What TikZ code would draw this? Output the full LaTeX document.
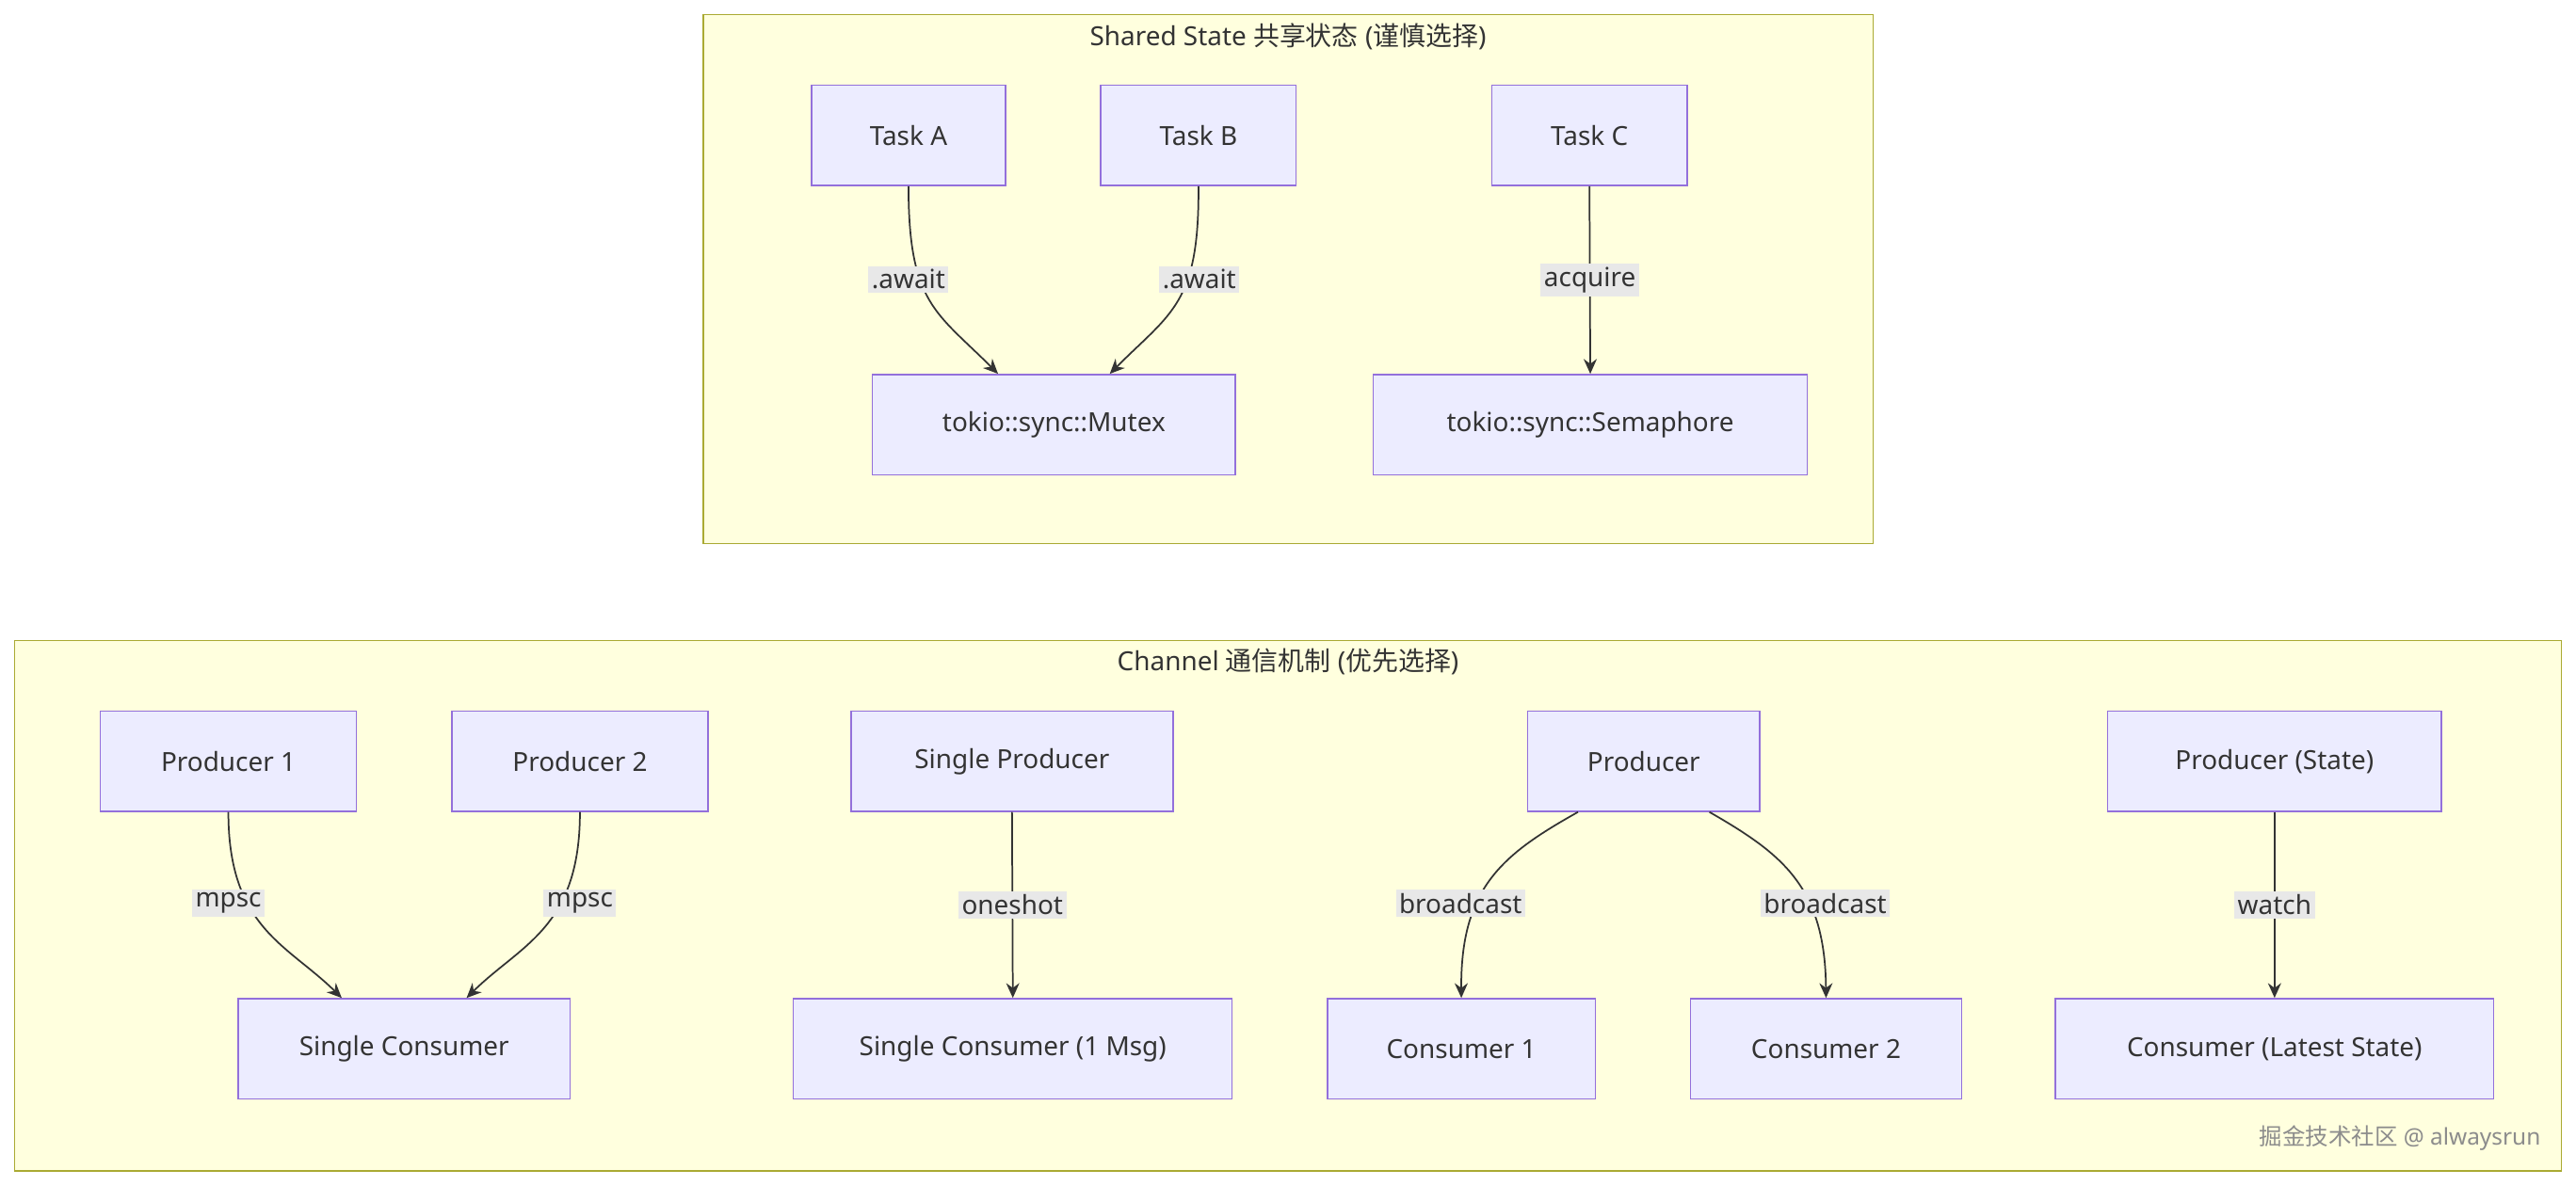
\documentclass[tikz,border=0pt]{standalone}
\usepackage{fontspec}
\setmainfont{Noto Sans}
\newfontfamily\cjk{Noto Sans CJK SC}
\usetikzlibrary{calc,arrows.meta}
\definecolor{nfill}{HTML}{ECECFF}
\definecolor{nline}{HTML}{9370DB}
\definecolor{cfill}{HTML}{FFFFDE}
\definecolor{cline}{HTML}{AAAA33}
\definecolor{lbg}{HTML}{E8E8E8}
\definecolor{ink}{HTML}{333333}
\begin{document}
\begin{tikzpicture}[x=1pt,y=-1pt,
  every node/.style={font=\fontsize{16}{19}\selectfont, text=ink},
  box/.style={draw=nline, fill=nfill, line width=0.8pt, minimum height=61pt, inner sep=0pt},
  clus/.style={draw=cline, fill=cfill, line width=0.8pt},
  lbl/.style={fill=lbg, inner sep=2pt},
  arr/.style={draw=ink, line width=1pt, -{Stealth[length=9pt,width=8pt]}}]
\useasboundingbox (0,0) rectangle (1568,722);
\fill[white] (0,0) rectangle (1568,722);
% clusters
\draw[clus] (428,9) rectangle (1140,331);
\node at (784,22) {Shared State {\cjk 共享状态} ({\cjk 谨慎选择})};
\draw[clus] (9,390) rectangle (1559,713);
\node at (784,403) {Channel {\cjk 通信机制} ({\cjk 优先选择})};
% top nodes
\node[box, minimum width=118pt] (A) at (553,82.5) {Task A};
\node[box, minimum width=119pt] (B) at (729.5,82.5) {Task B};
\node[box, minimum width=119pt] (C) at (967.5,82.5) {Task C};
\node[box, minimum width=221pt] (M) at (641.5,258.5) {tokio::sync::Mutex};
\node[box, minimum width=264pt] (S) at (968,258.5) {tokio::sync::Semaphore};
% bottom nodes
\node[box, minimum width=156pt] (P1) at (139,463.5) {Producer 1};
\node[box, minimum width=156pt] (P2) at (353,463.5) {Producer 2};
\node[box, minimum width=196pt] (SP) at (616,463.5) {Single Producer};
\node[box, minimum width=141pt] (P) at (1000.5,463.5) {Producer};
\node[box, minimum width=203pt] (PS) at (1384.5,463.5) {Producer (State)};
\node[box, minimum width=202pt] (SC) at (246,638.5) {Single Consumer};
\node[box, minimum width=267pt] (SC1) at (616.5,638.5) {Single Consumer (1 Msg)};
\node[box, minimum width=163pt] (C1) at (889.5,638.5) {Consumer 1};
\node[box, minimum width=165pt] (C2) at (1111.5,638.5) {Consumer 2};
\node[box, minimum width=267pt] (CL) at (1384.5,638.5) {Consumer (Latest State)};
% edges
\draw[arr] (A.south) .. controls (553,185) and (570,190) .. ($(M.north)+(-34,0)$);
\node[lbl] at (553,170) {.await};
\draw[arr] (B.south) .. controls (730,185) and (713,190) .. ($(M.north)+(34,0)$);
\node[lbl] at (730,170) {.await};
\draw[arr] (C.south) -- (S.north) node[lbl, pos=0.5] {acquire};
\draw[arr] (P1.south) .. controls (139,565) and (175,575) .. ($(SC.north)+(-38,0)$);
\node[lbl] at (139,550) {mpsc};
\draw[arr] (P2.south) .. controls (353,565) and (317,575) .. ($(SC.north)+(38,0)$);
\node[lbl] at (353,550) {mpsc};
\draw[arr] (SP.south) -- (SC1.north) node[lbl, pos=0.5] {oneshot};
\draw[arr] ($(P.south)+(-40,0)$) .. controls (915,520) and (889,540) .. (C1.north);
\node[lbl] at (889,550) {broadcast};
\draw[arr] ($(P.south)+(40,0)$) .. controls (1085,520) and (1111,540) .. (C2.north);
\node[lbl] at (1111,550) {broadcast};
\draw[arr] (PS.south) -- (CL.north) node[lbl, pos=0.5] {watch};
% watermark
\node[anchor=east, text=gray!90, font=\fontsize{14}{16}\selectfont] (wm) at (1550,693) {{\cjk 掘金技术社区} @ alwaysrun};
\end{tikzpicture}
\end{document}
